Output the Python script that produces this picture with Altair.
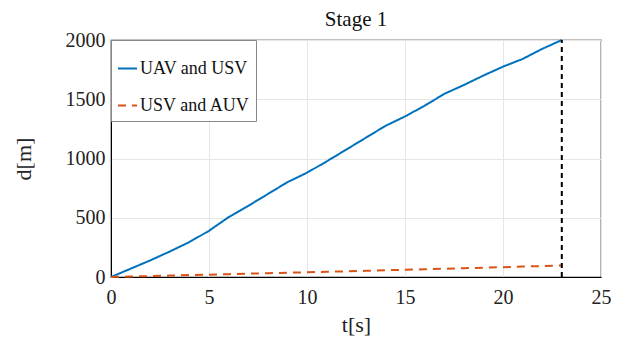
import altair as alt
import pandas as pd

t_vals = list(range(0, 24))
uav_usv = [0, 70, 140, 215, 295, 390, 505, 600, 700, 800, 880, 975, 1075, 1175,
           1275, 1355, 1445, 1545, 1620, 1700, 1775, 1840, 1925, 2000]
usv_auv = [0, 4, 8, 12, 16, 20, 24, 28, 32, 36, 40, 44, 48, 52, 57, 61, 65, 70,
           74, 79, 83, 88, 92, 97]
series_names = ["UAV and USV", "USV and AUV"]
colors = ["#0072BD", "#D95319"]
stage_end = 23
x_ticks = [0, 5, 10, 15, 20, 25]
y_ticks = [0, 500, 1000, 1500, 2000]

rows = []
for t, a, b in zip(t_vals, uav_usv, usv_auv):
    rows.append({"t": t, "d": a, "series": series_names[0]})
    rows.append({"t": t, "d": b, "series": series_names[1]})
df = pd.DataFrame(rows)

FONT = "Liberation Serif"

lines = alt.Chart(df).mark_line(strokeWidth=2).encode(
    x=alt.X("t:Q", scale=alt.Scale(domain=[0, 25], nice=False),
            axis=alt.Axis(values=x_ticks, title="t[s]", grid=True, format="d",
                          labelFont=FONT, titleFont=FONT, labelPadding=10,
                          titlePadding=7, labelFlush=False)),
    y=alt.Y("d:Q", scale=alt.Scale(domain=[0, 2000], nice=False),
            axis=alt.Axis(values=y_ticks, title="d[m]", grid=True, format="d",
                          labelFont=FONT, titleFont=FONT, labelPadding=6,
                          titlePadding=30, labelFlush=False)),
    color=alt.Color("series:N", scale=alt.Scale(domain=series_names, range=colors),
                    legend=alt.Legend(title=" ", titleFontSize=8, titlePadding=4,
                                      orient="top-left", offset=0,
                                      symbolType="stroke", symbolStrokeWidth=2,
                                      symbolSize=360,
                                      labelFont=FONT, labelFontSize=18, labelColor="#111",
                                      fillColor="white", strokeColor="#888",
                                      padding=6, rowPadding=17, labelOffset=2)),
    strokeDash=alt.StrokeDash("series:N",
                              scale=alt.Scale(domain=series_names, range=[[1, 0], [8, 6]]),
                              legend=None),
)

vline = alt.Chart(pd.DataFrame({"t": [stage_end], "y0": [0], "y1": [2000]})).mark_rule(
    color="black", strokeDash=[5, 4], strokeWidth=2
).encode(x="t:Q", y="y0:Q", y2="y1:Q")

chart = alt.layer(lines, vline).properties(
    width=490, height=237,
    title=alt.Title("Stage 1", font=FONT, fontSize=21, fontWeight="normal",
                    color="#111", offset=0),
    padding={"left": 111, "top": 40, "right": 17, "bottom": 64},
    autosize=alt.AutoSizeParams(type="none"),
).configure(font=FONT).configure_view(stroke="black", strokeWidth=1.2).configure_axis(
    labelFont=FONT, labelFontSize=20, labelColor="#222",
    titleFont=FONT, titleFontSize=22, titleFontWeight="normal", titleColor="#222",
    gridColor="#e6e6e6", domainColor="black", tickColor="black", tickSize=0,
).configure_legend(labelFont=FONT)

chart.save("out.html", embed_options={"renderer": "svg", "actions": False})
